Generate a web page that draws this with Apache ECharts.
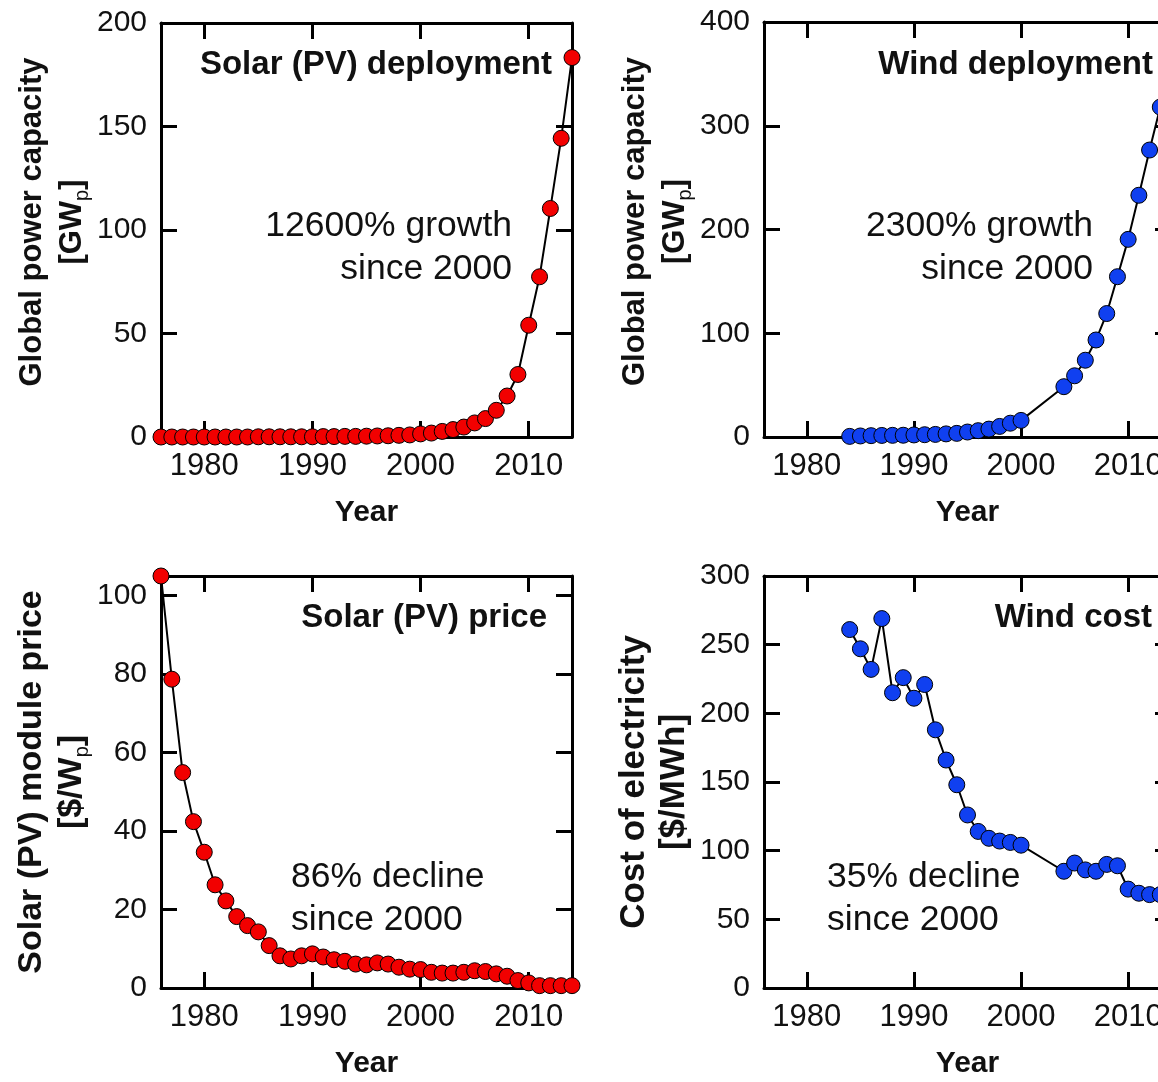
<!DOCTYPE html>
<html><head><meta charset="utf-8">
<script src="https://cdn.jsdelivr.net/npm/echarts@6/dist/echarts.min.js"></script>
<style>html,body{margin:0;padding:0;overflow:hidden;background:#fff}#c{width:1190px;height:1082px}</style>
</head><body><div id="c"></div>
<script>
// ---------- data ----------
const solarYears = [1976,1977,1978,1979,1980,1981,1982,1983,1984,1985,1986,1987,1988,1989,1990,1991,1992,1993,1994,1995,1996,1997,1998,1999,2000,2001,2002,2003,2004,2005,2006,2007,2008,2009,2010,2011,2012,2013,2014];
const solarCapacity = [0,0,0,0,0,0,0,0,0,0.1,0.1,0.1,0.1,0.1,0.1,0.2,0.2,0.3,0.3,0.4,0.5,0.6,0.8,1.0,1.5,1.9,2.7,3.6,4.8,6.8,8.9,12.9,19.8,30.2,54,77.4,110.4,144.3,183.3];
const solarPrice = [105,78.7,54.9,42.4,34.6,26.3,22.2,18.2,15.9,14.3,10.8,8.2,7.4,8.2,8.7,7.9,7.2,6.8,6.1,5.9,6.4,6.1,5.3,4.8,4.7,4.0,3.8,3.8,4.0,4.4,4.2,3.6,3.0,1.9,1.3,0.6,0.6,0.6,0.6];
const windYears = [1984,1985,1986,1987,1988,1989,1990,1991,1992,1993,1994,1995,1996,1997,1998,1999,2000,2004,2005,2006,2007,2008,2009,2010,2011,2012,2013,2014];
const windCapacity = [0.6,1.0,1.3,1.5,1.6,1.7,2.0,2.2,2.5,3.0,3.5,4.8,6.1,7.6,10.2,13.3,16,48.5,59,74,93.5,119,154.5,190.5,233,276.6,318,370];
const windCost = [261,247,232,269,215,226,211,221,188,166,148,126,114,109,107,106,104,85,91,86,85,90,89,72,69,68,68,67];
const yearTicks = [1980,1990,2000,2010];
const solarCapTicks = [0,50,100,150,200];
const windCapTicks = [0,100,200,300,400];
const priceTicks = [0,20,40,60,80,100];
const costTicks = [0,50,100,150,200,250,300];

// ---------- style ----------
const FONT = '"Liberation Sans", Arial, Helvetica, sans-serif';
const INK = '#111';
const RED = '#f20000';
const BLUE = '#1040f0';

const grids = [
  {left:161, top:23, width:411, height:414},
  {left:764, top:22, width:407, height:415},
  {left:161, top:576, width:411, height:412},
  {left:764, top:576, width:407, height:412}
];

function xPair(gi){
  const base = {gridIndex:gi, type:'value', min:1976, max:2014,
    axisLine:{show:true,onZero:false,lineStyle:{color:'#000',width:3}},
    axisTick:{show:true,inside:true,length:16,customValues:yearTicks,lineStyle:{color:'#000',width:3}},
    splitLine:{show:false}};
  return [
    Object.assign({}, base, {position:'bottom',
      axisLabel:{show:true,customValues:yearTicks,margin:14,fontSize:31,color:INK,fontFamily:FONT,
        formatter:function(v){return String(v);}},
      name:'Year', nameLocation:'middle', nameGap:61,
      nameTextStyle:{fontSize:30,fontWeight:'bold',color:INK,fontFamily:FONT}}),
    Object.assign({}, base, {position:'top', axisLabel:{show:false}})
  ];
}
function yPair(gi, max, ticks, name, fs, gap, pad){
  const base = {gridIndex:gi, type:'value', min:0, max:max,
    axisLine:{show:true,onZero:false,lineStyle:{color:'#000',width:3}},
    axisTick:{show:true,inside:true,length:16,customValues:ticks,lineStyle:{color:'#000',width:3}},
    splitLine:{show:false}};
  return [
    Object.assign({}, base, {position:'left',
      axisLabel:{show:true,customValues:ticks,margin:14,fontSize:30,color:INK,fontFamily:FONT,
        formatter:function(v){return String(v);}},
      name:name, nameLocation:'middle', nameGap:gap, nameRotate:90,
      nameTextStyle:{fontSize:fs,fontWeight:'bold',color:INK,fontFamily:FONT,lineHeight:40,
        padding:[0,0,0,pad],
        rich:{
          b:{fontSize:fs,fontWeight:'bold',color:INK,fontFamily:FONT,lineHeight:40},
          s:{fontSize:20,fontWeight:'normal',color:INK,fontFamily:FONT,lineHeight:20,padding:[16,0,0,0],verticalAlign:'bottom'}
        }}}),
    Object.assign({}, base, {position:'right', axisLabel:{show:false}})
  ];
}
function ser(gi, xs, ys, color){
  return {type:'line', xAxisIndex:2*gi, yAxisIndex:2*gi,
    data: xs.map((x,i)=>[x, ys[i]]),
    symbol:'circle', symbolSize:16, clip:false, silent:true,
    lineStyle:{color:'#000',width:2},
    itemStyle:{color:color,borderColor:'#000',borderWidth:1},
    emphasis:{disabled:true}, z:3};
}
function txt(x, y, text, align, bold, size){
  return {type:'text', x:x, y:y, silent:true, z:10,
    style:{text:text, align:align, verticalAlign:'middle', fill:INK,
      font:(bold?'bold ':'')+size+'px '+FONT}};
}
const TS = 33, AS = 35.5;

const option = {
  animation:false,
  grid: grids,
  xAxis: [].concat(xPair(0), xPair(1), xPair(2), xPair(3)),
  yAxis: [].concat(
    yPair(0, 200, solarCapTicks, 'Global power capacity\n{b|[GW}{s|p}{b|]}', 31, 69, 16),
    yPair(1, 400, windCapTicks, 'Global power capacity\n{b|[GW}{s|p}{b|]}', 31, 69, 16),
    yPair(2, 105, priceTicks, 'Solar (PV) module price\n{b|[$/W}{s|p}{b|]}', 34, 69, 0),
    yPair(3, 300, costTicks, 'Cost of electricity\n{b|[$/MWh]}', 35, 70, 0)
  ),
  series: [
    ser(0, solarYears, solarCapacity, RED),
    ser(1, windYears, windCapacity, BLUE),
    ser(2, solarYears, solarPrice, RED),
    ser(3, windYears, windCost, BLUE)
  ],
  graphic: [
    txt(552, 65, 'Solar (PV) deployment', 'right', true, TS),
    txt(512, 226, '12600% growth', 'right', false, AS),
    txt(512, 269, 'since 2000', 'right', false, AS),
    txt(1153, 65, 'Wind deployment', 'right', true, TS),
    txt(1093, 226, '2300% growth', 'right', false, AS),
    txt(1093, 269, 'since 2000', 'right', false, AS),
    txt(547, 618, 'Solar (PV) price', 'right', true, TS),
    txt(291, 877, '86% decline', 'left', false, AS),
    txt(291, 920, 'since 2000', 'left', false, AS),
    txt(1152, 618, 'Wind cost', 'right', true, TS),
    txt(827, 877, '35% decline', 'left', false, AS),
    txt(827, 920, 'since 2000', 'left', false, AS)
  ]
};
const chart = echarts.init(document.getElementById('c'), null, {renderer:'canvas'});
chart.setOption(option);
</script>
</body></html>
